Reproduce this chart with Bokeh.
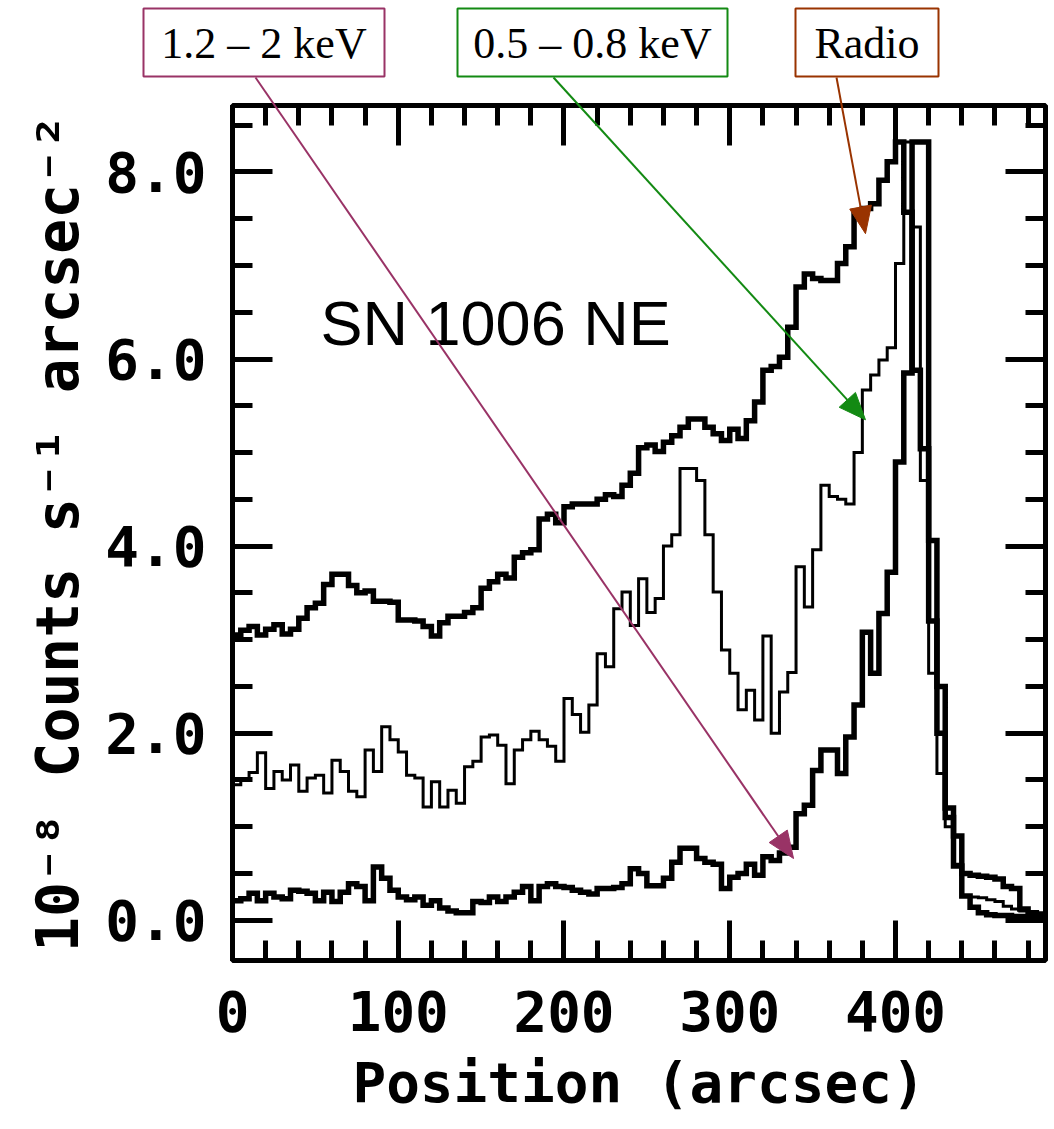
import numpy as np
from bokeh.plotting import figure
from bokeh.models import (Range1d, LinearAxis, SingleIntervalTicker, PrintfTickFormatter,
                          CustomJSTickFormatter, Label)
from bokeh.core.properties import value
from bokeh.embed import file_html
from bokeh.resources import INLINE

# Surface-brightness profiles across the NE rim of SN 1006, 5 arcsec bins
bin_width = 5  # arcsec

radio = [3.05, 3.10, 3.14, 3.05, 3.11, 3.16, 3.06, 3.11, 3.23, 3.34,
         3.39, 3.59, 3.70, 3.70, 3.58, 3.50, 3.52, 3.41, 3.41, 3.40,
         3.21, 3.21, 3.20, 3.14, 3.04, 3.18, 3.25, 3.25, 3.29, 3.34,
         3.55, 3.62, 3.70, 3.66, 3.88, 3.93, 3.96, 4.29, 4.34, 4.25,
         4.42, 4.45, 4.45, 4.45, 4.50, 4.55, 4.53, 4.65, 4.78, 5.05,
         5.08, 5.01, 5.11, 5.18, 5.27, 5.36, 5.36, 5.27, 5.20, 5.13,
         5.25, 5.15, 5.34, 5.54, 5.88, 5.92, 6.02, 6.34, 6.77, 6.91,
         6.86, 6.84, 6.84, 7.02, 7.20, 7.55, 7.61, 7.66, 7.91, 8.11,
         8.32, 7.57, 5.88, 5.04, 3.20, 2.00, 1.20, 0.58, 0.50, 0.48,
         0.47, 0.46, 0.44, 0.36, 0.34, 0.12, 0.08, 0.06]

soft = [1.45, 1.50, 1.58, 1.79, 1.41, 1.59, 1.50, 1.66, 1.38, 1.52,
        1.55, 1.36, 1.71, 1.59, 1.38, 1.32, 1.82, 1.59, 2.07, 1.93,
        1.80, 1.55, 1.52, 1.21, 1.48, 1.21, 1.39, 1.25, 1.64, 1.70,
        1.96, 1.98, 1.87, 1.46, 1.82, 1.93, 2.02, 1.93, 1.86, 1.70,
        2.37, 2.20, 2.01, 2.30, 2.85, 2.71, 3.33, 3.51, 3.15, 3.65,
        3.29, 3.44, 4.00, 4.12, 4.83, 4.83, 4.70, 4.12, 3.51, 2.89,
        2.64, 2.25, 2.46, 2.14, 3.04, 2.00, 2.44, 2.65, 3.78, 3.35,
        3.96, 4.65, 4.53, 4.50, 4.45, 5.00, 5.67, 5.83, 5.99, 6.12,
        7.02, 8.32, 7.41, 4.70, 2.64, 1.57, 1.00, 0.60, 0.26, 0.25,
        0.24, 0.22, 0.20, 0.15, 0.12, 0.10, 0.08, 0.08]

hard = [0.21, 0.23, 0.29, 0.21, 0.29, 0.25, 0.23, 0.32, 0.31, 0.29,
        0.21, 0.30, 0.20, 0.30, 0.39, 0.36, 0.21, 0.57, 0.45, 0.32,
        0.25, 0.22, 0.25, 0.16, 0.21, 0.13, 0.10, 0.08, 0.08, 0.20,
        0.19, 0.25, 0.20, 0.25, 0.30, 0.36, 0.21, 0.36, 0.39, 0.36,
        0.35, 0.32, 0.30, 0.28, 0.34, 0.34, 0.35, 0.39, 0.55, 0.50,
        0.37, 0.37, 0.45, 0.62, 0.77, 0.77, 0.66, 0.62, 0.60, 0.34,
        0.46, 0.50, 0.60, 0.48, 0.68, 0.64, 0.72, 0.78, 1.14, 1.23,
        1.60, 1.82, 1.82, 1.57, 1.96, 2.30, 3.08, 2.64, 3.28, 3.72,
        4.90, 5.85, 8.32, 8.32, 4.06, 2.50, 1.10, 0.90, 0.26, 0.14,
        0.08, 0.06, 0.05, 0.05, 0.04, 0.04, 0.03, 0.03]

band_labels = ["1.2 \u2013 2 keV", "0.5 \u2013 0.8 keV", "Radio"]
band_colors = ["#993366", "#138a13", "#993300"]
# arrow tips, in data units, on the curve each caption refers to
arrow_tips = [(338.5, 0.66), (381.9, 5.35), (381.9, 7.34)]

# page geometry of the plotting frame (pixels)
FRAME_L, FRAME_T, FRAME_W, FRAME_H = 232, 105, 813, 855
X0, X1, Y0, Y1 = 0.0, 490.5, -0.43, 8.71


def to_x(px):
    return X0 + (px - FRAME_L) * (X1 - X0) / FRAME_W


def to_y(py):
    return Y1 - (py - FRAME_T) * (Y1 - Y0) / FRAME_H


def px_of(x):
    return FRAME_L + (x - X0) * FRAME_W / (X1 - X0)


def py_of(y):
    return FRAME_T + (Y1 - y) * FRAME_H / (Y1 - Y0)


edges = np.arange(len(radio) + 1) * bin_width


def closed(vals):
    return list(vals) + [vals[-1]]


p = figure(frame_width=FRAME_W, frame_height=FRAME_H,
           x_range=Range1d(X0, X1), y_range=Range1d(Y0, Y1),
           x_axis_type=None, y_axis_type=None,
           min_border_left=FRAME_L, min_border_right=1054 - FRAME_L - FRAME_W,
           min_border_top=FRAME_T, min_border_bottom=1129 - FRAME_T - FRAME_H,
           output_backend="svg", toolbar_location=None)
p.background_fill_color = "white"
p.border_fill_color = "white"
p.outline_line_color = "black"
p.outline_line_width = 5

FONT = "DejaVu Sans Mono"


def style_axis(ax, labelled):
    ax.axis_line_color = None
    ax.major_tick_in = 40
    ax.major_tick_out = 0
    ax.minor_tick_in = 20
    ax.minor_tick_out = 0
    ax.major_tick_line_width = 5
    ax.minor_tick_line_width = 5
    ax.major_tick_line_color = "black"
    ax.minor_tick_line_color = "black"
    if labelled:
        ax.major_label_text_font = FONT
        ax.major_label_text_font_style = "bold"
        ax.major_label_text_font_size = "56px"
        ax.major_label_text_color = "black"
        ax.axis_label_text_font = FONT
        ax.axis_label_text_font_style = "bold"
        ax.axis_label_text_color = "black"
    else:
        ax.formatter = CustomJSTickFormatter(code="return ''")
        ax.major_label_text_font_size = "0px"
        ax.major_label_standoff = 0


xb = LinearAxis(ticker=SingleIntervalTicker(interval=100, num_minor_ticks=5),
                axis_label="Position (arcsec)")
style_axis(xb, True)
xb.major_label_standoff = 30
xb.axis_label_standoff = 16
xb.axis_label_text_font_size = "56px"
p.add_layout(xb, "below")

xt = LinearAxis(ticker=SingleIntervalTicker(interval=100, num_minor_ticks=5))
style_axis(xt, False)
p.add_layout(xt, "above")

yl = LinearAxis(ticker=SingleIntervalTicker(interval=2, num_minor_ticks=4),
                formatter=PrintfTickFormatter(format="%.1f"),
                axis_label="10\u207b\u2078 Counts s\u207b\u00b9 arcsec\u207b\u00b2")
style_axis(yl, True)
yl.major_label_standoff = 26
yl.axis_label_standoff = 10
yl.axis_label_text_font_size = "58px"
p.add_layout(yl, "left")

yr = LinearAxis(ticker=SingleIntervalTicker(interval=2, num_minor_ticks=4))
style_axis(yr, False)
p.add_layout(yr, "right")

# histogram profiles
p.step(edges, closed(radio), mode="after", line_color="black", line_width=5.5, line_join="miter")
p.step(edges, closed(hard), mode="after", line_color="black", line_width=5.5, line_join="miter")
p.step(edges, closed(soft), mode="after", line_color="black", line_width=3, line_join="miter")

p.add_layout(Label(x=to_x(320), y=to_y(322), text="SN 1006 NE", text_font="Liberation Sans",
                   text_font_size="63px", text_color="black", text_baseline="alphabetic"))

# caption boxes above the frame (pixel extents) and arrows to their curves
box_px = [(143, 384), (457, 727), (795, 938)]
box_top_px, box_bottom_px = 8, 76
arrow_start_px = [255, 553, 836]
HEAD_LEN, HEAD_HALF = 27, 11

for txt, col, (bl, br), sx_px, (tx, ty) in zip(band_labels, band_colors, box_px,
                                               arrow_start_px, arrow_tips):
    # arrow geometry is laid out in pixels so the head keeps its shape
    sy_px = box_bottom_px + 1
    tx_px, ty_px = px_of(tx), py_of(ty)
    d = np.array([tx_px - sx_px, ty_px - sy_px])
    u = d / np.hypot(*d)
    n = np.array([-u[1], u[0]])
    base = np.array([tx_px, ty_px]) - HEAD_LEN * u
    left = base + HEAD_HALF * n
    right = base - HEAD_HALF * n
    p.segment(x0=[to_x(sx_px)], y0=[to_y(sy_px)], x1=[to_x(base[0])], y1=[to_y(base[1])],
              line_color=col, line_width=2, level="overlay")
    p.patches(xs=[[tx, to_x(left[0]), to_x(right[0])]],
              ys=[[ty, to_y(left[1]), to_y(right[1])]],
              fill_color=col, line_color=col, line_width=1, level="overlay")

    p.quad(left=[to_x(bl)], right=[to_x(br)], top=[to_y(box_top_px)], bottom=[to_y(box_bottom_px)],
           fill_color="white", line_color=col, line_width=2, level="overlay")
    p.text(x=[to_x((bl + br) / 2)], y=[to_y((box_top_px + box_bottom_px) / 2 + 1)], text=[txt],
           text_align="center", text_baseline="middle", text_font=value("Liberation Serif"),
           text_font_size=value("44px"), text_color="black", level="overlay")

open("out.html", "w").write(file_html(p, INLINE))
